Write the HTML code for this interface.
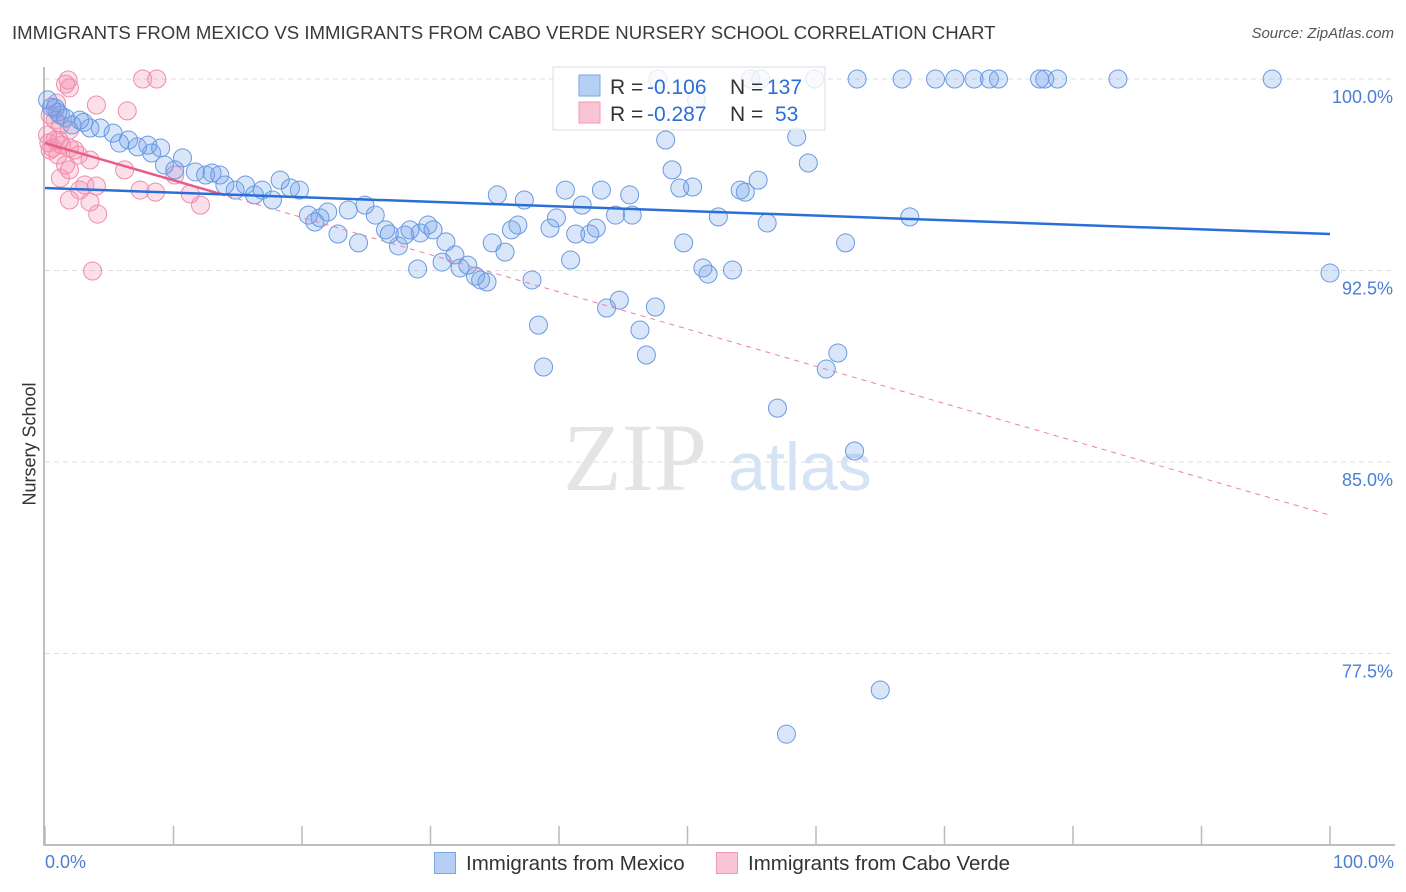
<!DOCTYPE html>
<html><head><meta charset="utf-8">
<style>
body{margin:0;background:#fff;font-family:"Liberation Sans",sans-serif;}
#wrap{position:relative;width:1406px;height:892px;overflow:hidden;}
.t{position:absolute;white-space:nowrap;}
</style></head>
<body><div id="wrap">
<div class="t" style="left:12px;top:22px;font-size:18.6px;color:#3a3a3a;">IMMIGRANTS FROM MEXICO VS IMMIGRANTS FROM CABO VERDE NURSERY SCHOOL CORRELATION CHART</div>
<div class="t" style="right:12px;top:25px;font-size:15px;color:#555;font-style:italic;">Source: ZipAtlas.com</div>
<div class="t" style="left:-20px;top:445px;font-size:18px;color:#333;transform:rotate(-90deg);width:100px;text-align:center;">Nursery School</div>
<svg id="plot" width="1406" height="892" style="position:absolute;left:0;top:0"></svg>
</div>
<script>
const mexicoX=[0.2,0.8,1.2,1.6,2.1,2.7,3.5,4.3,5.3,5.8,6.5,7.2,8.0,8.3,9.0,9.3,10.1,10.7,11.7,12.5,13.0,13.6,14.0,14.8,15.6,16.3,16.9,17.7,18.3,19.1,19.8,20.5,21.0,21.4,22.0,22.8,23.6,24.4,24.9,25.7,26.5,26.8,27.5,28.0,28.4,29.2,29.8,30.2,29.0,30.9,31.2,31.9,32.3,32.9,33.5,33.9,34.4,34.8,35.2,35.8,36.3,36.8,37.3,37.9,38.4,38.8,39.3,39.8,40.5,40.9,41.3,41.8,42.4,42.9,43.3,43.7,44.4,44.7,45.5,45.7,46.3,46.8,47.5,48.3,48.8,49.4,49.7,50.4,50.7,51.2,51.6,52.4,53.5,54.1,54.5,55.5,56.2,57.0,57.7,58.5,59.4,60.8,61.7,62.3,63.0,65.0,67.3,100,47.7,54.9,55.7,59.9,63.2,66.7,69.3,70.8,72.3,73.5,74.2,77.4,77.8,78.8,83.5,95.5,1.0,0.5,3.0];
const mexicoY=[99.18,98.86,98.59,98.47,98.2,98.39,98.08,98.08,97.88,97.49,97.61,97.34,97.41,97.1,97.3,96.63,96.44,96.91,96.36,96.24,96.32,96.24,95.85,95.65,95.85,95.46,95.65,95.26,96.04,95.73,95.65,94.67,94.4,94.56,94.79,93.93,94.87,93.58,95.06,94.67,94.09,93.93,93.46,93.89,94.09,93.97,94.28,94.09,92.56,92.83,93.62,93.11,92.6,92.71,92.28,92.13,92.05,93.58,95.46,93.22,94.09,94.28,95.26,92.13,90.36,88.72,94.16,94.56,95.65,92.91,93.93,95.06,93.93,94.16,95.65,91.03,94.67,91.34,95.46,94.67,90.17,89.19,91.07,97.61,96.44,95.73,93.58,95.77,99.18,92.6,92.36,94.6,92.52,95.65,95.57,96.04,94.36,87.11,74.34,97.73,96.71,88.64,89.27,93.58,85.43,76.07,94.6,92.4,100,100,100,100,100,100,100,100,100,100,100,100,100,100,100,100,98.7,98.9,98.3];
const caboX=[1.8,1.6,1.9,7.6,8.7,0.9,4.0,6.4,0.4,0.8,1.2,1.9,0.2,0.8,1.3,1.9,0.4,1.0,2.3,2.6,3.5,1.6,1.9,6.2,1.2,3.1,4.0,2.7,7.4,8.6,11.3,1.9,3.5,12.1,4.1,3.7,10.1,0.3,0.6,1.1];
const caboY=[99.96,99.8,99.65,100,100,99.06,98.98,98.75,98.59,98.39,98.2,98.0,97.81,97.61,97.41,97.3,97.22,97.02,97.22,97.02,96.83,96.63,96.44,96.44,96.12,95.85,95.81,95.65,95.65,95.57,95.5,95.26,95.18,95.06,94.71,92.48,96.24,97.5,97.3,97.6];
const mexicoTrend=[95.73,93.93];
const caboTrend=[97.49,82.92];
const yTicks=[100,92.5,85,77.5];
const yTickLabels=["100.0%","92.5%","85.0%","77.5%"];
const xTickVals=[0,10,20,30,40,50,60,70,80,90,100];

const X0=45,X1=1330,Y0=79,YB=845;
const sx=v=>X0+(X1-X0)*v/100;
const sy=v=>Y0+(100-v)*(YB-Y0)/30;
const svg=document.getElementById('plot');
const NS='http://www.w3.org/2000/svg';
function mk(tag,attrs){const e=document.createElementNS(NS,tag);for(const k in attrs)e.setAttribute(k,attrs[k]);svg.appendChild(e);return e;}

yTicks.forEach((v,i)=>{
  const g=mk('line',{x1:X0,x2:1395,y1:sy(v),y2:sy(v),stroke:'#ddd','stroke-dasharray':'5,4'});
  
  
  const t=mk('text',{x:1393,y:sy(v)+24,'text-anchor':'end','font-size':'18','fill':'#4a7fd4','font-family':'Liberation Sans, sans-serif'});
  t.textContent=yTickLabels[i];
  
  
});
const ax=mk('path',{d:`M${X0-1},67 V${YB} H1395`,stroke:'#aaa','stroke-width':'1.5',fill:'none'});


xTickVals.forEach(v=>{
  const l=mk('line',{x1:sx(v),x2:sx(v),y1:826,y2:YB,stroke:'#bbb','stroke-width':'1.5'});
  
  
});
const w1=mk('text',{x:635,y:490,'text-anchor':'middle','font-size':'96','fill':'#e4e4e4','font-family':'Liberation Serif, serif'});
w1.textContent='ZIP';


const w2=mk('text',{x:800,y:490,'text-anchor':'middle','font-size':'68','fill':'#d6e3f5','font-family':'Liberation Sans, sans-serif'});
w2.textContent='atlas';



caboX.forEach((x,i)=>{
  const c=mk('circle',{cx:sx(x),cy:sy(caboY[i]),r:9,fill:'rgba(244,143,177,0.28)',stroke:'#f08cab','stroke-width':'1'});
  
  
});
mexicoX.forEach((x,i)=>{
  const c=mk('circle',{cx:sx(x),cy:sy(mexicoY[i]),r:9,fill:'rgba(110,160,235,0.26)',stroke:'#6a9ae0','stroke-width':'1'});
  
  
});
const pd=mk('line',{x1:sx(0),y1:sy(caboTrend[0]),x2:sx(100),y2:sy(caboTrend[1]),stroke:'#ee7fa0','stroke-width':'1','stroke-dasharray':'5,5'});


const cy16=caboTrend[0]+(caboTrend[1]-caboTrend[0])*0.14;
const ps=mk('line',{x1:sx(0),y1:sy(caboTrend[0]),x2:sx(14),y2:sy(cy16),stroke:'#e85d88','stroke-width':'2.5'});


const bl=mk('line',{x1:sx(0),y1:sy(mexicoTrend[0]),x2:sx(100),y2:sy(mexicoTrend[1]),stroke:'#2a6fd6','stroke-width':'2.5'});



const lb=mk('rect',{x:553,y:67,width:272,height:63,fill:'rgba(255,255,255,0.8)',stroke:'#ddd'});


[['#b6d0f5','#7aa6e6','-0.106','137',86],['#f9c4d4','#f09ab5','-0.287','53',113]].forEach(r=>{
  const s=mk('rect',{x:579,y:r[4]-11,width:21,height:21,fill:r[0],stroke:r[1]});
  
  
  const t=mk('text',{x:610,y:r[4]+8,'font-size':'21','fill':'#333','font-family':'Liberation Sans, sans-serif'});
  t.innerHTML=`R = <tspan fill="#2a6fd6" x="647">${r[2]}</tspan>`;
  
  
  const n=mk('text',{x:730,y:r[4]+8,'font-size':'21','fill':'#333','font-family':'Liberation Sans, sans-serif'});
  n.innerHTML=`N = <tspan fill="#2a6fd6" x="${r[3]=='53'?775:767}">${r[3]}</tspan>`;
  
  
});
</script>
<div class="t" style="left:45px;top:852px;font-size:18px;color:#4a7fd4;">0.0%</div>
<div class="t" style="right:12px;top:852px;font-size:18px;color:#4a7fd4;">100.0%</div>
<div class="t" style="left:434px;top:852px;font-size:20.5px;color:#333;"><span style="display:inline-block;width:20px;height:20px;background:#b6d0f5;border:1px solid #7aa6e6;vertical-align:-4px;margin-right:10px;"></span>Immigrants from Mexico</div>
<div class="t" style="left:716px;top:852px;font-size:20.5px;color:#333;"><span style="display:inline-block;width:20px;height:20px;background:#f9c4d4;border:1px solid #f09ab5;vertical-align:-4px;margin-right:10px;"></span>Immigrants from Cabo Verde</div>
</body></html>
